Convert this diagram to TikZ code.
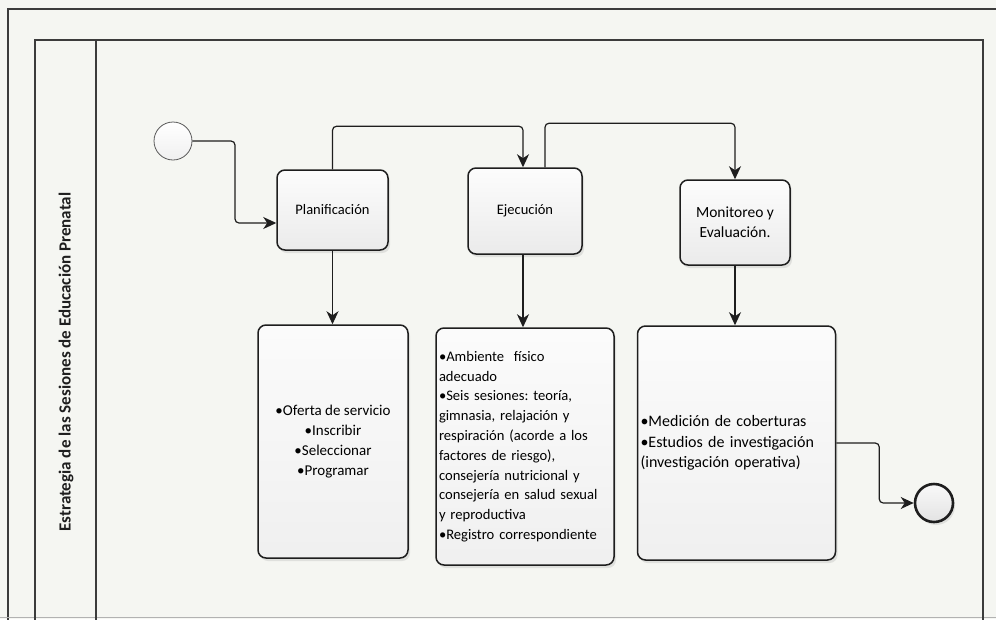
\documentclass[tikz,border=0pt]{standalone}
\usepackage{fontspec}
\setmainfont{Carlito}
\usetikzlibrary{arrows.meta,shadows}
\frenchspacing
\definecolor{paper}{RGB}{245,246,242}
\definecolor{ink}{RGB}{30,30,30}
\definecolor{frame}{RGB}{60,60,60}
\tikzset{
  taskbox/.style={draw=ink, line width=1.5pt, rounded corners=8pt,
    top color=gray!2, bottom color=gray!16,
    drop shadow={opacity=0.18, shadow xshift=2pt, shadow yshift=-3pt},
    inner sep=3pt, font=\fontsize{14.5}{17}\selectfont, align=center},
  bigbox/.style={taskbox, top color=gray!3, bottom color=gray!12},
  conn/.style={draw=ink, line width=1.2pt, rounded corners=4pt,
    -{Stealth[length=13pt,width=12pt,inset=4pt]}},
  framelin/.style={draw=frame, line width=1.1pt},
}
\begin{document}
\begin{tikzpicture}[x=1pt,y=-1pt]
\useasboundingbox (0,0) rectangle (996,619);
\fill[paper] (0,0) rectangle (996,619);
% frames
\draw[framelin] (8,625) -- (8,9) -- (1000,9);
\draw[draw=gray!60, line width=1pt] (0,617) -- (996,617);
\draw[framelin] (35,625) -- (35,40) -- (983,40) -- (983,625);
\draw[framelin] (96,40) -- (96,625);
% lane label
\node[rotate=90, font=\bfseries\fontsize{17}{19}\selectfont, text=ink] (lane) at (66,362)
  {Estrategia de las Sesiones de Educación Prenatal};
% events
\node[circle, draw=gray!70!black, line width=0.8pt, minimum size=38pt, inner sep=0pt,
  top color=white, bottom color=gray!12] (start) at (173,141) {};
\node[circle, draw=ink, line width=2.6pt, minimum size=38pt, inner sep=0pt,
  top color=gray!5, bottom color=gray!22,
  drop shadow={opacity=0.18, shadow xshift=2pt, shadow yshift=-3pt}] (endc) at (934,503) {};
% tasks
\node[taskbox, minimum width=111pt, minimum height=80pt] (plan) at (332.5,210) {Planificación};
\node[taskbox, minimum width=114pt, minimum height=86pt] (ejec) at (525,211) {Ejecución};
\node[taskbox, minimum width=110pt, minimum height=85pt, font=\fontsize{15.5}{20}\selectfont] (mon) at (735,222.5) {Monitoreo y\\Evaluación.};
% big boxes
\node[bigbox, minimum width=150pt, minimum height=233pt, font=\fontsize{15}{20}\selectfont] (b1) at (333,441.5)
  {•Oferta de servicio\\•Inscribir\\•Seleccionar\\•Programar};
\node[bigbox, minimum width=176pt, minimum height=237pt, text width=172pt, align=left,
  font=\fontsize{14.6}{19.8}\selectfont] (b2) at (525,446.5)
  {•Ambiente~~físico\\adecuado\\•Seis sesiones: teoría,\\gimnasia, relajación y\\respiración (acorde a los\\factores de riesgo),\\consejería nutricional y\\consejería en salud sexual\\y reproductiva\\•Registro correspondiente};
\node[bigbox, minimum width=197pt, minimum height=234pt, text width=192pt, align=left,
  font=\fontsize{16}{20.5}\selectfont] (b3) at (736.5,443)
  {•Medición de coberturas\\•Estudios de investigación\\(investigación operativa)};
% connectors
\coordinate (planin) at (plan.west |- 0,223);
\draw[conn] (start.east) -- (235,141) -- (235,223) -- (planin);
\draw[conn] (plan.north) -- ++(0,-43) -| ([xshift=-2pt]ejec.north);
\draw[conn] ([xshift=20pt]ejec.north) -- ++(0,-44) -| (mon.north);
\draw[conn] (plan.south) -- (plan.south |- b1.north);
\draw[conn] ([xshift=-2pt]ejec.south) -- ([xshift=-2pt]ejec.south |- b2.north);
\draw[conn] (mon.south) -- (mon.south |- b3.north);
\draw[conn] (b3.east) -- ++(43,0) |- (endc.west);
\end{tikzpicture}
\end{document}
